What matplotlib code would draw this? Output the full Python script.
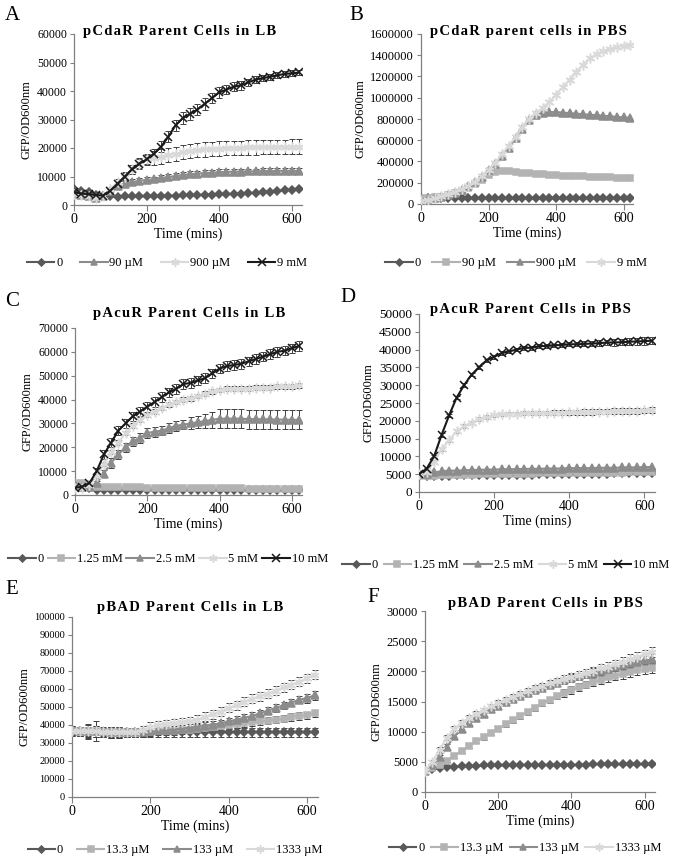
import matplotlib
matplotlib.use('Agg')
import matplotlib.pyplot as plt

plt.rcParams['font.family'] = ['Liberation Serif', 'DejaVu Serif']

# sampling times (min), one point every 20 min
TIME = list(range(0, 640, 20))

# ---- A: pCdaR parent cells in LB ----
A_LABELS = ['0', '90 \u00b5M', '900 \u00b5M', '9 mM']
A_0 = [5500, 5000, 4500, 3500, 3000, 3000, 2900, 3000, 3000, 3000, 3100, 3100, 3200, 3300, 3300, 3400,
       3400, 3500, 3600, 3600, 3700, 3800, 3900, 4000, 4100, 4300, 4500, 4700, 4900, 5100, 5400, 5600]
A_90 = [4000, 3500, 3000, 2500, 3000, 5000, 6500, 7500, 8000, 8500, 8800, 9000, 9500, 9800, 10200, 10500,
        10800, 11000, 11200, 11300, 11500, 11600, 11700, 11700, 11800, 11800, 11900, 11900, 12000, 12000, 12000, 12000]
A_900 = [4000, 3500, 3000, 2500, 3000, 5500, 8000, 10000, 12500, 14500, 16000, 16500, 17000, 17500, 18000, 18500,
         19000, 19200, 19500, 19700, 19800, 20000, 20000, 20100, 20200, 20200, 20300, 20300, 20400, 20400, 20500, 20500]
A_9M = [4500, 4000, 3800, 3500, 3300, 5000, 7500, 10000, 12500, 14500, 16000, 18000, 20500, 24000, 28000, 30500,
        32000, 33500, 35500, 37500, 39500, 40500, 41500, 42000, 43000, 44000, 44500, 45000, 45500, 46000, 46200, 46500]
A_90_ERR = [500, 500, 500, 500, 500, 600, 800, 1000, 1000, 1000, 1000, 1000, 1000, 1000, 1000, 1000,
            1000, 1000, 1000, 1000, 1000, 1000, 1000, 1000, 1000, 1000, 1000, 1000, 1000, 1000, 1000, 1000]
A_900_ERR = [500, 500, 500, 500, 500, 800, 1000, 1500, 1500, 2000, 2000, 2500, 2500, 2500, 2500, 2500,
             2500, 2500, 2500, 2500, 2500, 2500, 2500, 2500, 2500, 2500, 2500, 2500, 2500, 2500, 2500, 2500]
A_9M_ERR = [500, 500, 500, 500, 500, 800, 1000, 1200, 1500, 1500, 1500, 1500, 1800, 2000, 2000, 2000,
            2000, 2000, 2000, 1800, 1800, 1500, 1500, 1500, 1200, 1200, 1000, 1000, 1000, 1000, 1000, 1000]

# ---- B: pCdaR parent cells in PBS ----
B_LABELS = ['0', '90 \u00b5M', '900 \u00b5M', '9 mM']
B_0 = [60000, 55000, 55000, 55000, 55000, 55000, 55000, 55000, 55000, 55000, 55000, 55000, 55000, 55000, 55000, 55000,
       55000, 55000, 55000, 55000, 55000, 55000, 55000, 55000, 55000, 55000, 55000, 55000, 55000, 55000, 55000, 55000]
B_90 = [60000, 60000, 65000, 70000, 85000, 100000, 120000, 150000, 190000, 230000, 270000, 300000, 310000, 310000,
        305000, 295000, 290000, 285000, 280000, 275000, 270000, 268000, 265000, 262000, 260000, 258000, 255000,
        252000, 250000, 248000, 246000, 245000]
B_900 = [40000, 45000, 55000, 70000, 85000, 105000, 130000, 165000, 205000, 255000, 320000, 380000, 450000, 530000,
         620000, 710000, 790000, 840000, 860000, 865000, 865000, 860000, 855000, 850000, 845000, 840000, 835000,
         830000, 825000, 820000, 815000, 810000]
B_9M = [30000, 40000, 55000, 75000, 95000, 115000, 140000, 170000, 210000, 260000, 320000, 390000, 470000, 550000,
        630000, 720000, 800000, 860000, 900000, 960000, 1030000, 1100000, 1170000, 1240000, 1310000, 1370000,
        1410000, 1440000, 1460000, 1480000, 1490000, 1500000]

# ---- C: pAcuR parent cells in LB ----
C_LABELS = ['0', '1.25 mM', '2.5 mM', '5 mM', '10 mM']
C_0 = [4000, 3500, 3000, 2200, 2000, 2000, 2000, 2000, 2000, 2000, 2000, 2000, 2000, 2000, 2000, 2000,
       2000, 2000, 2000, 2000, 2000, 2000, 2000, 2000, 2000, 2000, 2000, 2000, 2000, 2000, 2000, 2000]
C_125 = [5000, 5000, 4500, 3500, 3500, 3300, 3300, 3200, 3200, 3200, 3100, 3100, 3100, 3000, 3000, 3000,
         3000, 3000, 2900, 2900, 2900, 2800, 2800, 2800, 2700, 2700, 2700, 2600, 2600, 2600, 2500, 2500]
C_25 = [4000, 3500, 3500, 5000, 9000, 13500, 17000, 20000, 22500, 24000, 26000, 26500, 27000, 28000, 29000, 29500,
        30000, 30500, 31000, 31500, 32000, 32000, 32000, 32000, 31800, 31800, 31700, 31700, 31600, 31600, 31500, 31500]
C_5 = [3000, 3000, 4000, 8000, 13000, 18000, 22000, 26000, 29000, 31500, 33500, 35000, 36500, 38000, 39000, 40000,
       40500, 41500, 42500, 43500, 44000, 44500, 44500, 44500, 44500, 45000, 45000, 45000, 45500, 45500, 45500, 46000]
C_10 = [3000, 3500, 5000, 10000, 17000, 22000, 27000, 30000, 33000, 35000, 37000, 39000, 41000, 43000, 44500, 46500,
        47000, 48000, 49000, 51000, 53000, 54000, 54500, 55000, 56000, 57000, 58000, 59000, 60000, 60500, 61500, 62500]
C_25_ERR = [500, 500, 500, 1000, 1500, 2000, 2000, 2000, 2000, 2000, 2000, 2000, 2000, 2000, 2000, 2000,
            2500, 2500, 3000, 3500, 4000, 4000, 4000, 4000, 4000, 4000, 4000, 4000, 4000, 4000, 4000, 4000]
C_5_ERR = [300, 300, 500, 800, 1000, 1000, 1000, 1000, 1000, 1000, 1000, 1000, 1000, 1000, 1000, 1000,
           1000, 1000, 1000, 1000, 1000, 1000, 1000, 1000, 1000, 1000, 1000, 1000, 1000, 1000, 1000, 1000]
C_10_ERR = [500, 500, 800, 1500, 2000, 2000, 2000, 2000, 2000, 2000, 2000, 2000, 2000, 2000, 2000, 2000,
            2000, 2000, 2000, 2000, 2000, 2000, 2000, 2000, 2000, 2000, 2000, 2000, 2000, 2000, 2000, 2000]

# ---- D: pAcuR parent cells in PBS ----
D_LABELS = ['0', '1.25 mM', '2.5 mM', '5 mM', '10 mM']
D_0 = [4500, 4500, 4500, 4600, 4600, 4700, 4700, 4700, 4800, 4800, 4800, 4800, 4900, 4900, 4900, 4900,
       5000, 5000, 5000, 5000, 5000, 5000, 5100, 5100, 5100, 5100, 5200, 5200, 5200, 5200, 5300, 5300]
D_125 = [4500, 4500, 4600, 4700, 4800, 4800, 4900, 4900, 5000, 5000, 5000, 5000, 5100, 5100, 5100, 5100,
         5200, 5200, 5200, 5200, 5300, 5300, 5300, 5300, 5400, 5400, 5400, 5400, 5500, 5500, 5500, 5500]
D_25 = [5000, 5000, 5500, 5800, 6000, 6000, 6100, 6200, 6200, 6300, 6300, 6400, 6400, 6400, 6500, 6500,
        6500, 6600, 6600, 6600, 6700, 6700, 6700, 6700, 6800, 6800, 6800, 6900, 6900, 6900, 7000, 7000]
D_5 = [5000, 5500, 8500, 12000, 14500, 17000, 18500, 19500, 20500, 21000, 21500, 21800, 22000, 22000, 22100, 22100,
       22200, 22200, 22300, 22300, 22400, 22400, 22500, 22500, 22600, 22600, 22700, 22700, 22800, 22800, 22900, 23000]
D_10 = [5000, 6500, 10000, 16000, 21500, 26500, 30000, 33000, 35000, 37000, 38000, 39000, 39500, 40000, 40500, 40500,
        41000, 41000, 41200, 41300, 41500, 41500, 41600, 41700, 41800, 42000, 42000, 42100, 42200, 42300, 42400, 42500]
D_5_ERR = [300, 300, 400, 500, 500, 500, 500, 500, 500, 500, 500, 500, 500, 500, 600, 600,
           600, 600, 700, 700, 700, 700, 800, 800, 800, 800, 800, 800, 800, 800, 800, 800]
D_10_ERR = [300, 300, 400, 500, 500, 500, 500, 500, 500, 500, 500, 500, 500, 500, 500, 500,
            500, 500, 500, 500, 600, 600, 700, 700, 800, 800, 900, 900, 1000, 1000, 1000, 1000]

# ---- E: pBAD parent cells in LB ----
E_LABELS = ['0', '13.3 \u00b5M', '133 \u00b5M', '1333 \u00b5M']
E_0 = [37000, 36500, 36000, 36000, 36000, 36000, 36000, 36000, 36000, 36000, 36000, 36000, 36000, 36000, 36000, 36000,
       36000, 36000, 36000, 36000, 36000, 36000, 36000, 36000, 36000, 36000, 36000, 36000, 36000, 36000, 36000, 36000]
E_13 = [36500, 36500, 36500, 36500, 36000, 36000, 36000, 36000, 36000, 36000, 36000, 36500, 36500, 36500, 37000, 37500,
        38000, 38500, 39000, 39500, 40000, 40500, 41000, 41500, 42000, 42500, 43000, 43500, 44500, 45000, 45500, 46500]
E_133 = [37000, 36500, 36500, 36500, 36500, 36000, 36000, 36000, 36000, 36000, 36500, 37000, 37000, 37500, 38000, 38500,
         39000, 39500, 40000, 41000, 42000, 43000, 44000, 45000, 46500, 48000, 49500, 51000, 52500, 54000, 55000, 56500]
E_1333 = [36500, 36500, 36500, 36500, 36000, 36000, 36000, 36000, 36000, 37000, 39000, 40000, 40500, 41000, 41500, 42000,
          43000, 44500, 46000, 47500, 49500, 51000, 53000, 54500, 56000, 57500, 59000, 61000, 62500, 64000, 66000, 68000]
E_0_ERR = [2500, 2500, 2500, 2500, 2500, 2500, 2500, 2500, 2500, 2500, 2500, 2500, 2500, 2500, 2500, 2500,
           2500, 2500, 2500, 2500, 2500, 2500, 2500, 2500, 2500, 2500, 2500, 2500, 2500, 2500, 2500, 2500]
E_13_ERR = [2500, 2500, 4000, 5500, 2500, 3000, 3000, 2500, 2500, 2000, 2000, 2000, 2000, 2000, 2000, 2000,
            2000, 2000, 2000, 2000, 2000, 2000, 2000, 2000, 2000, 2000, 2000, 2000, 2000, 2000, 2000, 2000]
E_133_ERR = [2500, 2500, 3500, 3000, 2500, 3000, 2500, 2500, 2500, 2500, 2000, 2000, 2000, 2000, 2000, 2000,
             2000, 2000, 2000, 2000, 2000, 2000, 2000, 2000, 2000, 2000, 2000, 2000, 2000, 2000, 2500, 2500]
E_1333_ERR = [2500, 2500, 2500, 3000, 2500, 3000, 3000, 2500, 2500, 2500, 2500, 2500, 2500, 2500, 2500, 2500,
              2500, 2500, 2500, 2500, 2500, 2500, 2500, 2500, 2500, 2500, 2500, 2500, 2500, 2500, 2500, 2500]

# ---- F: pBAD parent cells in PBS ----
F_LABELS = ['0', '13.3 \u00b5M', '133 \u00b5M', '1333 \u00b5M']
F_0 = [3500, 3800, 4000, 4100, 4200, 4300, 4300, 4300, 4400, 4400, 4400, 4400, 4400, 4500, 4500, 4500,
       4500, 4500, 4500, 4500, 4500, 4500, 4500, 4600, 4600, 4600, 4600, 4600, 4600, 4600, 4600, 4600]
F_13 = [3500, 4000, 4500, 5200, 6000, 6800, 7600, 8400, 9100, 9800, 10500, 11200, 11900, 12600, 13300, 14000,
        14700, 15300, 15900, 16400, 16900, 17400, 17800, 18200, 18600, 19000, 19300, 19600, 19900, 20200, 20400, 20600]
F_133 = [3500, 4500, 5800, 7500, 9200, 10500, 11500, 12300, 13000, 13700, 14300, 14900, 15400, 15900, 16400, 16900,
         17300, 17700, 18100, 18500, 18900, 19200, 19500, 19800, 20100, 20400, 20700, 21000, 21300, 21600, 21800, 22000]
F_1333 = [3500, 5000, 7000, 9000, 10500, 11500, 12300, 13000, 13600, 14200, 14800, 15300, 15800, 16300, 16800, 17200,
          17600, 18000, 18400, 18800, 19100, 19400, 19800, 20100, 20500, 20800, 21200, 21600, 22000, 22400, 22800, 23200]
F_13_ERR = [200, 200, 300, 300, 300, 300, 300, 300, 400, 400, 400, 400, 400, 500, 500, 500,
            500, 500, 500, 600, 600, 600, 600, 700, 700, 700, 700, 800, 800, 800, 800, 800]
F_133_ERR = [200, 300, 400, 400, 400, 400, 400, 400, 400, 400, 400, 400, 400, 500, 500, 500,
             500, 500, 500, 600, 600, 600, 600, 700, 700, 700, 700, 800, 800, 800, 800, 800]
F_1333_ERR = [200, 300, 400, 400, 400, 400, 400, 400, 400, 400, 400, 400, 400, 500, 500, 500,
              500, 500, 500, 600, 600, 600, 600, 700, 700, 700, 700, 800, 800, 800, 800, 800]

W, H = 675, 858

DARK = '#595959'
MID = '#8c8c8c'
SQ = '#b3b3b3'
LIGHT = '#d9d9d9'
BLACK = '#1a1a1a'
ASTER = (6, 2, 0)

ST_ZERO = dict(color=DARK, marker='D', ms=4.2)
ST_TRI = dict(color=MID, marker='^', ms=5.5)
ST_SQ = dict(color=SQ, marker='s', ms=5)
ST_AST = dict(color=LIGHT, marker=ASTER, ms=7)
ST_X = dict(color=BLACK, marker='x', ms=6)

fig = plt.figure(figsize=(W / 100, H / 100), dpi=100)


def px_axes(left, top, right, bottom):
    return fig.add_axes([left / W, 1 - bottom / H, (right - left) / W, (bottom - top) / H])


def spaced(text):
    # wide letter spacing as in the original titles
    return '\u200a'.join(text)


def draw_panel(box, series, ymax, ystep, ytick_size, title, title_xy, letter, letter_xy,
               legend_xy, colspace, leg_size=9):
    ax = px_axes(*box)
    for label, y, err, st in series:
        if err is not None:
            ax.errorbar(TIME, y, yerr=err, fmt='none', ecolor='#404040', elinewidth=0.7,
                        capsize=2, capthick=0.7, zorder=2)
        ax.plot(TIME, y, color=st['color'], lw=1.5, marker=st['marker'], ms=st['ms'],
                mfc=st['color'], mec=st['color'], mew=1.1, label=label, zorder=3)
    ax.set_xlim(0, 628)
    ax.set_ylim(0, ymax)
    ax.set_xticks([0, 200, 400, 600])
    yt = list(range(0, ymax + 1, ystep))
    ax.set_yticks(yt)
    ax.set_yticklabels([str(v) for v in yt], fontsize=ytick_size)
    ax.tick_params(axis='x', labelsize=10, length=4, width=0.8, color='#808080', pad=2)
    ax.tick_params(axis='y', length=3, width=0.8, color='#808080', pad=2)
    for s in ['top', 'right']:
        ax.spines[s].set_visible(False)
    for s in ['left', 'bottom']:
        ax.spines[s].set_color('#808080')
        ax.spines[s].set_linewidth(0.9)
    ax.set_xlabel('Time (mins)', fontsize=10, labelpad=1)
    ax.set_ylabel('GFP/OD600nm', fontsize=9, labelpad=3)
    fig.text(title_xy[0] / W, 1 - title_xy[1] / H, spaced(title), fontsize=10.5,
             fontweight='bold', ha='center', va='center')
    fig.text(letter_xy[0] / W, 1 - letter_xy[1] / H, letter, fontsize=15,
             ha='left', va='center')
    ax.legend(loc='center', bbox_to_anchor=(legend_xy[0] / W, 1 - legend_xy[1] / H),
              bbox_transform=fig.transFigure, ncol=len(series), frameon=False,
              fontsize=leg_size, handlelength=2.2, handletextpad=0.15, columnspacing=colspace,
              borderaxespad=0, borderpad=0, markerscale=0.85)
    return ax


draw_panel((74, 34, 302, 205),
           [(A_LABELS[0], A_0, None, ST_ZERO),
            (A_LABELS[1], A_90, A_90_ERR, ST_TRI),
            (A_LABELS[2], A_900, A_900_ERR, ST_AST),
            (A_LABELS[3], A_9M, A_9M_ERR, ST_X)],
           60000, 10000, 8.5, 'pCdaR Parent Cells in LB', (180, 32), 'A', (5, 15),
           (167, 263), 1.4)

draw_panel((421, 34, 633, 204),
           [(B_LABELS[0], B_0, None, ST_ZERO),
            (B_LABELS[1], B_90, None, ST_SQ),
            (B_LABELS[2], B_900, None, ST_TRI),
            (B_LABELS[3], B_9M, None, ST_AST)],
           1600000, 200000, 9, 'pCdaR parent cells in PBS', (528, 32), 'B', (349, 15),
           (516, 263), 0.9)

draw_panel((75, 328, 302, 495),
           [(C_LABELS[0], C_0, None, ST_ZERO),
            (C_LABELS[1], C_125, None, ST_SQ),
            (C_LABELS[2], C_25, C_25_ERR, ST_TRI),
            (C_LABELS[3], C_5, C_5_ERR, ST_AST),
            (C_LABELS[4], C_10, C_10_ERR, ST_X)],
           70000, 10000, 8.5, 'pAcuR Parent Cells in LB', (189, 314), 'C', (5, 302),
           (168, 559), 0.3)

draw_panel((419, 314, 655, 492),
           [(D_LABELS[0], D_0, None, ST_ZERO),
            (D_LABELS[1], D_125, None, ST_SQ),
            (D_LABELS[2], D_25, None, ST_TRI),
            (D_LABELS[3], D_5, D_5_ERR, ST_AST),
            (D_LABELS[4], D_10, D_10_ERR, ST_X)],
           50000, 5000, 9.5, 'pAcuR Parent Cells in PBS', (530, 310), 'D', (340, 298),
           (506, 565), 0.45)

draw_panel((72, 617, 318, 797),
           [(E_LABELS[0], E_0, E_0_ERR, ST_ZERO),
            (E_LABELS[1], E_13, E_13_ERR, ST_SQ),
            (E_LABELS[2], E_133, E_133_ERR, ST_TRI),
            (E_LABELS[3], E_1333, E_1333_ERR, ST_AST)],
           100000, 10000, 7.5, 'pBAD Parent Cells in LB', (190, 607), 'E', (5, 590),
           (175, 850), 1.1)

draw_panel((425, 611, 655, 792),
           [(F_LABELS[0], F_0, None, ST_ZERO),
            (F_LABELS[1], F_13, F_13_ERR, ST_SQ),
            (F_LABELS[2], F_133, F_133_ERR, ST_TRI),
            (F_LABELS[3], F_1333, F_1333_ERR, ST_AST)],
           30000, 5000, 9, 'pBAD Parent Cells in PBS', (545, 603), 'F', (367, 598),
           (525, 848), 0.5)

fig.savefig('out.png', dpi=100)
